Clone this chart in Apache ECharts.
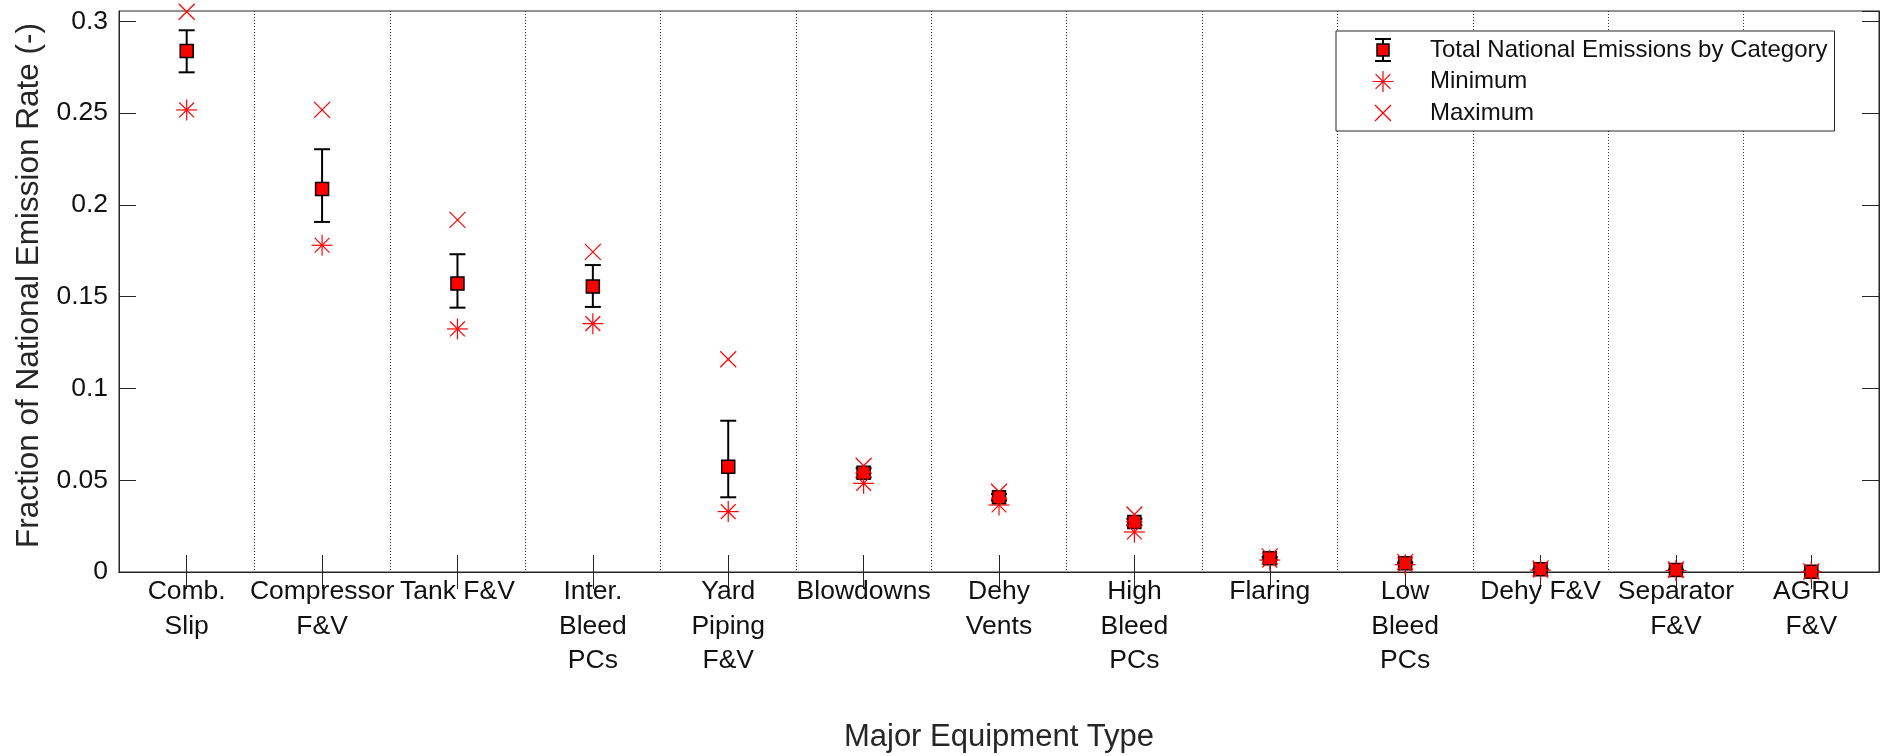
<!DOCTYPE html>
<html>
<head>
<meta charset="utf-8">
<title>Fraction of National Emission Rate by Major Equipment Type</title>
<script src="https://cdn.jsdelivr.net/npm/echarts@6/dist/echarts.min.js"></script>
<style>
  html, body { margin: 0; padding: 0; background: #fff; }
  #chart { width: 1880px; height: 756px; }
</style>
</head>
<body>
<div id="chart"></div>
<script>
// Equipment categories (multi-line tick labels)
const categories = [
  'Comb.\nSlip', 'Compressor\nF&V', 'Tank F&V', 'Inter.\nBleed\nPCs', 'Yard\nPiping\nF&V',
  'Blowdowns', 'Dehy\nVents', 'High\nBleed\nPCs', 'Flaring', 'Low\nBleed\nPCs',
  'Dehy F&V', 'Separator\nF&V', 'AGRU\nF&V'
];

// Total national emissions fraction per category, with error bar bounds
const totals  = [0.2838, 0.2086, 0.1571, 0.1555, 0.0574, 0.0541, 0.0407, 0.0272, 0.0075, 0.0047, 0.0015, 0.0011, 0.0002];
const errLow  = [0.2722, 0.1907, 0.1440, 0.1444, 0.0407, 0.0515, 0.0390, 0.0255, 0.0068, 0.0042, 0.0012, 0.0009, 0.0001];
const errHigh = [0.2951, 0.2303, 0.1731, 0.1672, 0.0824, 0.0565, 0.0425, 0.0290, 0.0082, 0.0052, 0.0018, 0.0013, 0.0003];

// Minimum and maximum estimates per category
const minima  = [0.2517, 0.1780, 0.1324, 0.1353, 0.0329, 0.0483, 0.0365, 0.0218, 0.0065, 0.0040, 0.0010, 0.0008, 0.0001];
const maxima  = [0.3052, 0.2517, 0.1918, 0.1744, 0.1159, 0.0579, 0.0437, 0.0313, 0.0085, 0.0055, 0.0020, 0.0014, 0.0003];

// Y tick labels
const yTickLabels = ['0', '0.05', '0.1', '0.15', '0.2', '0.25', '0.3'];

const FONT = "'Liberation Sans', Arial, Helvetica, sans-serif";
const AXIS_COLOR = '#262626';
const RED = '#ff0000';

const chart = echarts.init(document.getElementById('chart'), null, { renderer: 'canvas' });

function svgIcon(body) {
  const svg = '<svg xmlns="http://www.w3.org/2000/svg" width="54" height="26" viewBox="0 0 54 26">' + body + '</svg>';
  return 'image://data:image/svg+xml;charset=utf-8,' + encodeURIComponent(svg);
}
const iconTotal = svgIcon(
  '<line x1="12" y1="2" x2="12" y2="24" stroke="#000" stroke-width="2"/>' +
  '<line x1="4" y1="2" x2="20" y2="2" stroke="#000" stroke-width="2"/>' +
  '<line x1="4" y1="24" x2="20" y2="24" stroke="#000" stroke-width="2"/>' +
  '<rect x="6" y="7" width="12" height="12" fill="#ff0000" stroke="#000" stroke-width="1.5"/>'
);
const iconMin = svgIcon(
  '<g stroke="#ff0000" stroke-width="1.2">' +
  '<line x1="1.5" y1="13" x2="22.5" y2="13"/><line x1="12" y1="2.5" x2="12" y2="23.5"/>' +
  '<line x1="4.6" y1="5.6" x2="19.4" y2="20.4"/><line x1="19.4" y1="5.6" x2="4.6" y2="20.4"/></g>'
);
const iconMax = svgIcon(
  '<g stroke="#ff0000" stroke-width="1.2">' +
  '<line x1="4" y1="5" x2="20" y2="21"/><line x1="20" y1="5" x2="4" y2="21"/></g>'
);

// Square marker with black error bar
function renderTotal(params, api) {
  const i = api.value(0);
  const c = api.coord([i, api.value(1)]);
  const lo = api.coord([i, api.value(2)]);
  const hi = api.coord([i, api.value(3)]);
  const cap = 8, half = 6.5;
  const stroke = { stroke: '#000', lineWidth: 2 };
  return {
    type: 'group',
    children: [
      { type: 'line', shape: { x1: c[0], y1: lo[1], x2: c[0], y2: hi[1] }, style: stroke },
      { type: 'line', shape: { x1: c[0] - cap, y1: lo[1], x2: c[0] + cap, y2: lo[1] }, style: stroke },
      { type: 'line', shape: { x1: c[0] - cap, y1: hi[1], x2: c[0] + cap, y2: hi[1] }, style: stroke },
      { type: 'rect', shape: { x: c[0] - half, y: c[1] - half, width: half * 2, height: half * 2 },
        style: { fill: RED, stroke: '#000', lineWidth: 1.5 } }
    ]
  };
}

// Asterisk marker
function renderMin(params, api) {
  const c = api.coord([api.value(0), api.value(1)]);
  const r = 10.5, d = 7.4;
  const st = { stroke: RED, lineWidth: 1.2 };
  return {
    type: 'group',
    children: [
      { type: 'line', shape: { x1: c[0] - r, y1: c[1], x2: c[0] + r, y2: c[1] }, style: st },
      { type: 'line', shape: { x1: c[0], y1: c[1] - r, x2: c[0], y2: c[1] + r }, style: st },
      { type: 'line', shape: { x1: c[0] - d, y1: c[1] - d, x2: c[0] + d, y2: c[1] + d }, style: st },
      { type: 'line', shape: { x1: c[0] + d, y1: c[1] - d, x2: c[0] - d, y2: c[1] + d }, style: st }
    ]
  };
}

// Cross marker
function renderMax(params, api) {
  const c = api.coord([api.value(0), api.value(1)]);
  const h = 8;
  const st = { stroke: RED, lineWidth: 1.2 };
  return {
    type: 'group',
    children: [
      { type: 'line', shape: { x1: c[0] - h, y1: c[1] - h, x2: c[0] + h, y2: c[1] + h }, style: st },
      { type: 'line', shape: { x1: c[0] + h, y1: c[1] - h, x2: c[0] - h, y2: c[1] + h }, style: st }
    ]
  };
}

const Y_MAX = 0.3056;
const Y_STEP = 0.05;

function yLabel(v) {
  const k = Math.round(v / Y_STEP);
  return Math.abs(v - k * Y_STEP) < 1e-9 && k < yTickLabels.length ? yTickLabels[k] : '';
}

const option = {
  backgroundColor: '#ffffff',
  animation: false,
  textStyle: { fontFamily: FONT },
  grid: {
    left: 119, right: 1, top: 11, bottom: 184,
    containLabel: false,
    outerBoundsMode: 'none',
    show: true, borderColor: AXIS_COLOR, borderWidth: 1, backgroundColor: 'transparent'
  },
  legend: {
    orient: 'vertical',
    left: 1336, top: 31,
    padding: [6, 7, 5, 35],
    itemGap: 5.5,
    itemWidth: 54, itemHeight: 26,
    selectedMode: false,
    backgroundColor: '#ffffff',
    borderColor: AXIS_COLOR, borderWidth: 1,
    textStyle: { fontFamily: FONT, fontSize: 24, color: '#111', lineHeight: 26 },
    data: [
      { name: 'Total National Emissions by Category', icon: iconTotal },
      { name: 'Minimum', icon: iconMin },
      { name: 'Maximum', icon: iconMax }
    ]
  },
  xAxis: [
    {
      type: 'category',
      data: categories,
      position: 'bottom',
      boundaryGap: true,
      name: 'Major Equipment Type',
      nameLocation: 'middle',
      nameGap: 150,
      nameTextStyle: { fontFamily: FONT, fontSize: 31, color: AXIS_COLOR },
      axisLine: { show: true, lineStyle: { color: AXIS_COLOR, width: 1 } },
      axisTick: { show: true, inside: true, alignWithLabel: true, length: 17, lineStyle: { color: AXIS_COLOR, width: 1 } },
      axisLabel: {
        interval: 0, margin: 3, fontFamily: FONT, fontSize: 26.5, lineHeight: 34.3,
        color: '#111', align: 'center', verticalAlign: 'top'
      },
      splitLine: { show: true, interval: 0, lineStyle: { color: '#333', width: 1, type: [1, 2] } }
    },
    {
      type: 'category',
      data: categories,
      position: 'top',
      boundaryGap: true,
      axisLine: { show: true, lineStyle: { color: AXIS_COLOR, width: 1 } },
      axisTick: { show: true, inside: true, alignWithLabel: true, interval: 0, length: 17, lineStyle: { color: AXIS_COLOR, width: 1 } },
      axisLabel: { show: false },
      splitLine: { show: false }
    }
  ],
  yAxis: [
    {
      type: 'value',
      min: 0, max: Y_MAX, interval: Y_STEP,
      position: 'left',
      name: 'Fraction of National Emission Rate (-)',
      nameLocation: 'middle',
      nameGap: 69,
      nameTextStyle: { fontFamily: FONT, fontSize: 31.5, color: AXIS_COLOR, padding: [0, 0, 0, 12] },
      axisLine: { show: true, lineStyle: { color: AXIS_COLOR, width: 1 } },
      axisTick: { show: true, inside: true, length: 17, lineStyle: { color: AXIS_COLOR, width: 1 } },
      axisLabel: { margin: 11, fontFamily: FONT, fontSize: 26.5, color: '#111', formatter: yLabel, showMaxLabel: false },
      splitLine: { show: false }
    },
    {
      type: 'value',
      min: 0, max: Y_MAX, interval: Y_STEP,
      position: 'right',
      axisLine: { show: true, lineStyle: { color: AXIS_COLOR, width: 1 } },
      axisTick: { show: true, inside: true, length: 17, lineStyle: { color: AXIS_COLOR, width: 1 } },
      axisLabel: { show: false },
      splitLine: { show: false }
    }
  ],
  series: [
    {
      name: 'Total National Emissions by Category',
      type: 'custom',
      xAxisIndex: 0, yAxisIndex: 0,
      renderItem: renderTotal,
      encode: { x: 0, y: 1 },
      clip: false,
      z: 3,
      data: categories.map((_, i) => [i, totals[i], errLow[i], errHigh[i]])
    },
    {
      name: 'Minimum',
      type: 'custom',
      xAxisIndex: 0, yAxisIndex: 0,
      renderItem: renderMin,
      encode: { x: 0, y: 1 },
      clip: false,
      z: 4,
      data: categories.map((_, i) => [i, minima[i]])
    },
    {
      name: 'Maximum',
      type: 'custom',
      xAxisIndex: 0, yAxisIndex: 0,
      renderItem: renderMax,
      encode: { x: 0, y: 1 },
      clip: false,
      z: 5,
      data: categories.map((_, i) => [i, maxima[i]])
    }
  ]
};

chart.setOption(option);
</script>
</body>
</html>
